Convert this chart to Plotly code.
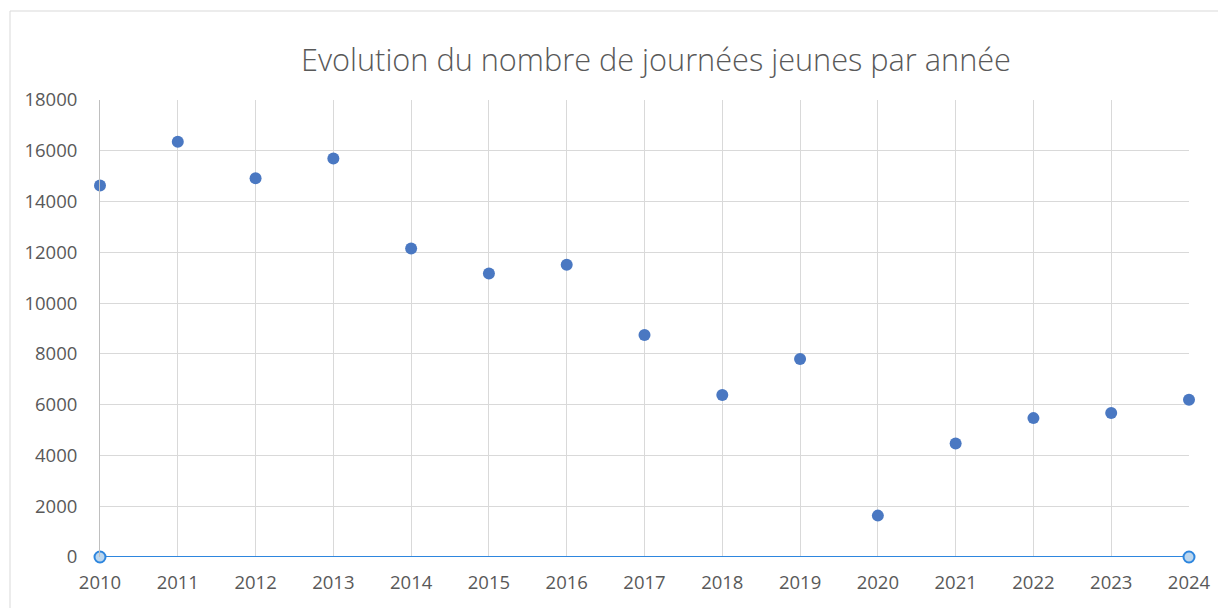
import plotly.graph_objects as go

years = [2010, 2011, 2012, 2013, 2014, 2015, 2016, 2017, 2018, 2019, 2020, 2021, 2022, 2023, 2024]
journees = [14630, 16360, 14920, 15700, 12150, 11170, 11515, 8740, 6380, 7800, 1630, 4470, 5470, 5670, 6190]
baseline_x = [2010, 2024]
baseline_y = [0, 0]
y_ticks = [0, 2000, 4000, 6000, 8000, 10000, 12000, 14000, 16000, 18000]
title_text = "Evolution du nombre de journées jeunes par année"

FONT = "Open Sans"
GREY = "#595959"

fig = go.Figure()
fig.add_trace(go.Scatter(
    x=years, y=journees, mode="markers",
    marker=dict(color="#4A78C2", size=12, line=dict(width=0)),
    showlegend=False, cliponaxis=False,
))
fig.add_trace(go.Scatter(
    x=baseline_x, y=baseline_y, mode="lines+markers",
    line=dict(color="#2E86DE", width=2),
    marker=dict(color="#BDD7EE", size=11, line=dict(color="#2E86DE", width=2)),
    showlegend=False, cliponaxis=False,
))

# page body has an 8px offset; compensate
OFF = 8
W, H = 1226 - OFF, 608 - OFF
L, T = 100 - OFF, 100 - OFF
R = W - (1189 - OFF)
B = H - (557 - OFF)
pw = W - L - R
ph = H - T - B

fig.update_layout(
    width=W, height=H,
    margin=dict(l=L, r=R, t=T, b=B, pad=0),
    paper_bgcolor="white", plot_bgcolor="white",
    font=dict(family=FONT, color=GREY),
    title=dict(
        text=title_text, font=dict(family=FONT, size=30.7, color=GREY, weight=300),
        x=(656 - OFF - L) / pw, xref="paper", xanchor="center",
        y=1 - (60 - OFF) / H, yref="container", yanchor="middle",
    ),
    xaxis=dict(
        range=[2010, 2024], tickmode="array", tickvals=years,
        ticktext=[str(y) for y in years],
        showgrid=True, gridcolor="#D9D9D9", gridwidth=1,
        zeroline=False, showline=False,
        ticks="", ticklabelstandoff=12,
        tickfont=dict(family=FONT, size=18.5, color=GREY),
    ),
    yaxis=dict(
        range=[0, 18000], tickmode="array", tickvals=y_ticks,
        ticktext=[str(v) for v in y_ticks],
        showgrid=True, gridcolor="#D9D9D9", gridwidth=1,
        zeroline=False, showline=True, linecolor="#BFBFBF", linewidth=1,
        ticks="", ticklabelstandoff=18,
        tickfont=dict(family=FONT, size=18.5, color=GREY),
    ),
    shapes=[dict(
        type="rect", xref="paper", yref="paper",
        x0=(10 - OFF - L) / pw, x1=1.2, y0=-0.3, y1=(H - B - (11 - OFF)) / ph,
        line=dict(color="#D9D9D9", width=1), fillcolor="rgba(0,0,0,0)",
        layer="below",
    )],
)

fig.write_html("out.html")
